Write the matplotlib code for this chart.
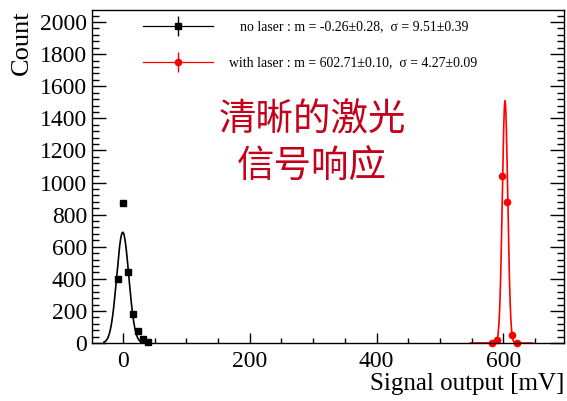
import numpy as np
import matplotlib

matplotlib.use("Agg")
import matplotlib.pyplot as plt
from matplotlib.legend_handler import HandlerTuple
from matplotlib.lines import Line2D
from matplotlib.ticker import MultipleLocator

# binned signal counts (bin centres in mV)
dark_x = [-8, 0, 8, 16, 24, 32, 40]
dark_y = [400, 870, 445, 180, 72, 25, 4]
laser_x = [582, 590, 598, 606, 614, 622]
laser_y = [0, 17, 1040, 880, 50, 0]

# gaussian fit results: (amplitude, mean, sigma, fit range)
dark_fit = (690, -0.26, 9.51, (-30, 40))
laser_fit = (1510, 602.71, 4.27, (548, 646))

dark_label = "no laser : m = -0.26\u00b10.28,  \u03c3 = 9.51\u00b10.39"
laser_label = "with laser : m = 602.71\u00b10.10,  \u03c3 = 4.27\u00b10.09"
note = "清晰的激光\n信号响应"

plt.rcParams["font.family"] = ["Liberation Serif", "DejaVu Serif"]


def gauss_curve(fit, n=400):
    amp, mu, sig, (lo, hi) = fit
    x = np.linspace(lo, hi, n)
    return x, amp * np.exp(-0.5 * ((x - mu) / sig) ** 2)


def legend_glyph(color, marker, ms):
    # horizontal line + marker, with a vertical error bar on top
    body = Line2D([], [], color=color, lw=0.9, marker=marker, ms=ms)
    bar = Line2D([], [], color=color, ls="none", marker="|", ms=15, mew=1.0)
    return (body, bar)


fig = plt.figure(figsize=(5.67, 4.01), dpi=100)
ax = fig.add_axes([0.162, 0.1446, 0.833, 0.8304])

xs, ys = gauss_curve(dark_fit)
ax.plot(xs, ys, color="black", lw=1.2)
xs, ys = gauss_curve(laser_fit)
ax.plot(xs, ys, color="red", lw=1.2)

ax.plot(dark_x, dark_y, "s", color="black", ms=5, clip_on=False)
ax.plot(laser_x, laser_y, "o", color="red", ms=4.5, clip_on=False)

ax.set_xlim(-49, 696)
ax.set_ylim(0, 2075)
ax.xaxis.set_major_locator(MultipleLocator(200))
ax.xaxis.set_minor_locator(MultipleLocator(50))
ax.yaxis.set_major_locator(MultipleLocator(200))
ax.yaxis.set_minor_locator(MultipleLocator(40))
ax.tick_params(axis="both", which="both", direction="in", labelsize=17, width=1.0)
ax.tick_params(axis="y", which="both", left=True, right=True, pad=3.5)
ax.tick_params(axis="y", which="major", length=10)
ax.tick_params(axis="y", which="minor", length=5)
ax.tick_params(axis="x", which="both", top=False, pad=6)
ax.tick_params(axis="x", which="major", length=7)
ax.tick_params(axis="x", which="minor", length=3.6)
for s in ax.spines.values():
    s.set_linewidth(1.0)

ax.set_ylabel("Count", fontsize=19, loc="top")
ax.yaxis.set_label_coords(-0.125, 1.0)
ax.set_xlabel("Signal output [mV]", fontsize=18, loc="right")
ax.xaxis.set_label_coords(1.0, -0.09)

leg_kw = dict(loc="center left", frameon=False, fontsize=9.9, handlelength=5.07, numpoints=1,
              borderpad=0, borderaxespad=0, handler_map={tuple: HandlerTuple(ndivide=1, pad=0)})
leg1 = ax.legend([legend_glyph("black", "s", 5)], [dark_label], bbox_to_anchor=(0.108, 0.949),
                 handletextpad=1.96, **leg_kw)
ax.add_artist(leg1)
ax.legend([legend_glyph("red", "o", 4.5)], [laser_label], bbox_to_anchor=(0.108, 0.841),
          handletextpad=1.16, **leg_kw)

ax.text(0.466, 0.599, note, transform=ax.transAxes, ha="center", va="center",
        fontsize=27, color="#c4001a", family=["Noto Sans CJK SC", "DejaVu Sans"],
        linespacing=1.3)

fig.savefig("out.png", dpi=100)
